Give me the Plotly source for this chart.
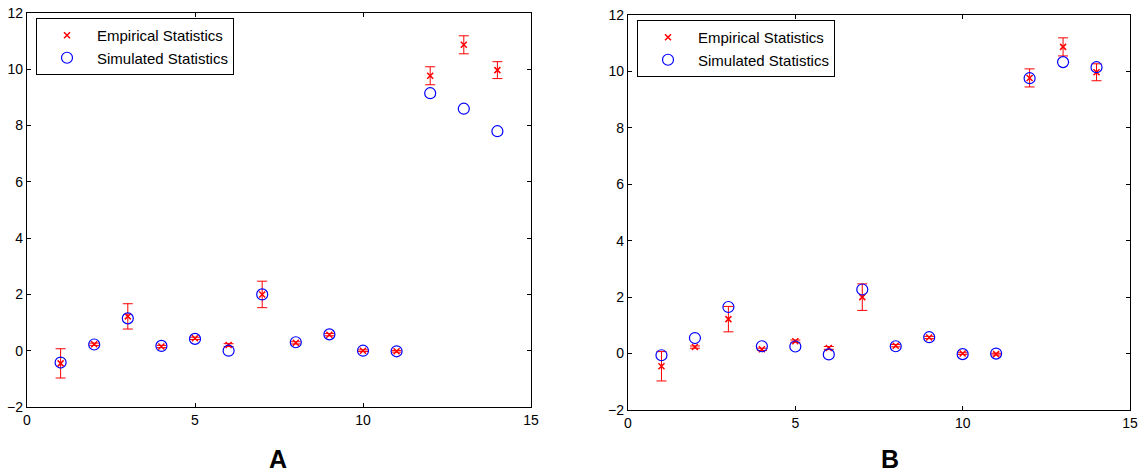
import plotly.graph_objects as go

x_vals = list(range(1, 15))

# Empirical statistics (same in both panels) with error bar half-widths
emp_mean = [-0.45, 0.23, 1.22, 0.15, 0.44, 0.20, 2.00, 0.28, 0.57, 0.00, -0.02, 9.77, 10.87, 9.97]
emp_err = [0.52, 0.04, 0.45, 0.04, 0.04, 0.05, 0.47, 0.04, 0.04, 0.03, 0.03, 0.32, 0.32, 0.30]

# Simulated statistics
sim_A = [-0.42, 0.22, 1.15, 0.17, 0.42, 0.00, 2.00, 0.30, 0.58, 0.00, -0.02, 9.15, 8.60, 7.80]
sim_B = [-0.06, 0.55, 1.65, 0.26, 0.25, -0.03, 2.27, 0.26, 0.58, -0.02, 0.00, 9.76, 10.33, 10.15]

panel_labels = ["A", "B"]
legend_names = ["Empirical Statistics", "Simulated Statistics"]

RED = "#ff0000"
BLUE = "#0000ff"
FONT = "Liberation Sans, Arial, sans-serif"

W, H = 1143, 472


def px(xp):
    return xp / W


def py(yp):
    return 1 - yp / H


fig = go.Figure()

panels = [("x", "y", "legend", sim_A), ("x2", "y2", "legend2", sim_B)]
for xa, ya, lg, sim in panels:
    fig.add_trace(go.Scatter(
        x=x_vals, y=emp_mean, mode="markers", name=legend_names[0],
        xaxis=xa, yaxis=ya, legend=lg,
        marker=dict(symbol="x-thin", size=6, color=RED, line=dict(color=RED, width=1.5)),
        error_y=dict(type="data", array=emp_err, visible=True, color=RED, thickness=1, width=5),
    ))
    fig.add_trace(go.Scatter(
        x=x_vals, y=sim, mode="markers", name=legend_names[1],
        xaxis=xa, yaxis=ya, legend=lg,
        marker=dict(symbol="circle-open", size=11, color=BLUE, line=dict(color=BLUE, width=1.2)),
    ))

axis_common = dict(
    showline=True, linecolor="black", linewidth=1.3, mirror="ticks",
    ticks="inside", ticklen=4, tickcolor="black", showgrid=False, zeroline=False,
    automargin=False, ticklabeloverflow="allow",
    tickfont=dict(family=FONT, size=14, color="black"),
)

legend_common = dict(
    xanchor="left", yanchor="top",
    bordercolor="black", borderwidth=1, bgcolor="white",
    font=dict(family=FONT, size=15, color="black"), itemwidth=50,
)

fig.update_layout(
    width=W, height=H,
    margin=dict(l=0, r=0, t=0, b=0),
    paper_bgcolor="white", plot_bgcolor="white",
    xaxis=dict(domain=[px(27), px(531)], range=[0, 15], dtick=5, anchor="y", **axis_common),
    yaxis=dict(domain=[py(407), py(13)], range=[-2, 12], dtick=2, anchor="x", **axis_common),
    xaxis2=dict(domain=[px(628), px(1130)], range=[0, 15], dtick=5, anchor="y2", **axis_common),
    yaxis2=dict(domain=[py(410), py(15)], range=[-2, 12], dtick=2, anchor="x2", **axis_common),
    legend=dict(x=px(36), y=py(18), **legend_common),
    legend2=dict(x=px(637), y=py(20), **legend_common),
    annotations=[
        dict(text="<b>%s</b>" % panel_labels[0], x=px(278), y=py(459), xref="paper", yref="paper",
             xanchor="center", yanchor="middle",
             showarrow=False, font=dict(family=FONT, size=25, color="black")),
        dict(text="<b>%s</b>" % panel_labels[1], x=px(890), y=py(459), xref="paper", yref="paper",
             xanchor="center", yanchor="middle",
             showarrow=False, font=dict(family=FONT, size=25, color="black")),
    ],
    showlegend=True,
)

fig.write_html("out.html", config={"displayModeBar": False},
               post_script="document.body.style.margin='0';document.body.style.overflow='hidden';")
